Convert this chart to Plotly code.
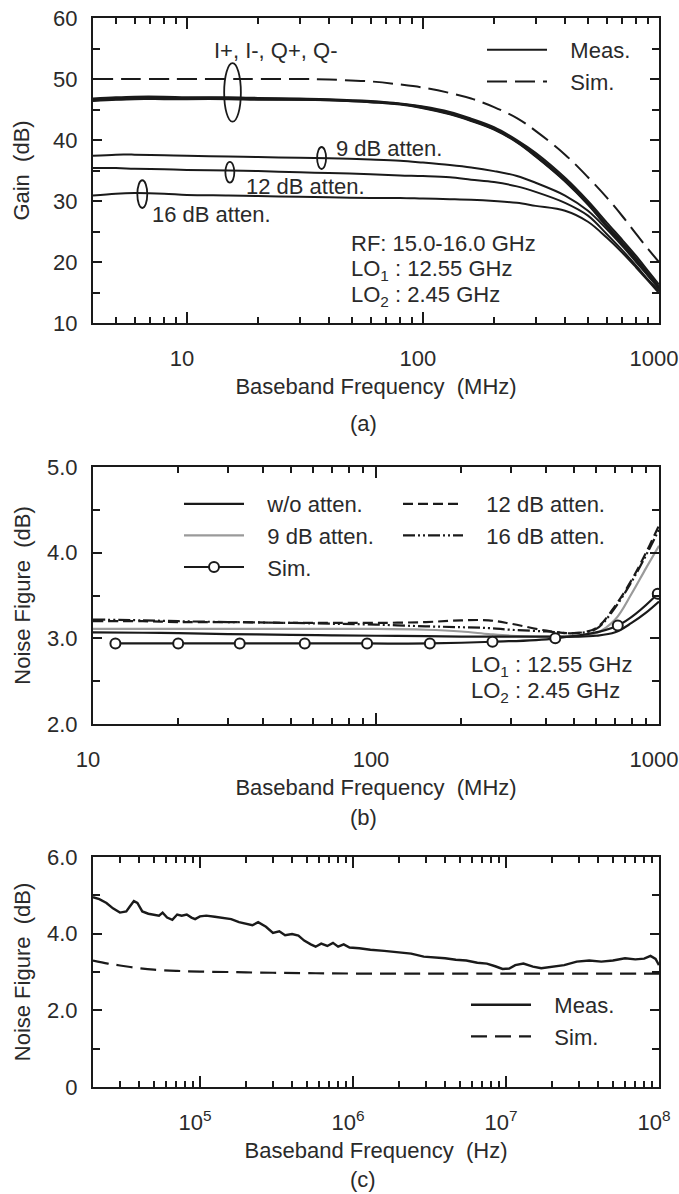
import numpy as np
import plotly.graph_objects as go

FONT = "Liberation Sans, Arial, Helvetica, sans-serif"
TXT = "#2a2a2a"
INK = "#1a1a1a"
GRAY = "#9a9a9a"
FS = 22

# ---------------- Panel (a): gain vs baseband frequency (MHz) ----------------
fa = [4, 5, 6, 8, 10, 15, 20, 30, 40, 60, 80, 100, 130, 160, 200, 250, 300, 400, 500, 600, 700, 800, 900, 1000]
gain_sim = [50.0, 50.0, 50.0, 50.0, 50.0, 50.0, 50.0, 50.0, 49.9, 49.6, 49.1, 48.6, 47.7, 46.8, 45.4, 43.6, 41.5, 37.6, 33.9, 30.6, 27.5, 24.6, 22.1, 20.0]
gain_ip = [46.6, 46.8, 46.9, 46.9, 46.9, 46.9, 46.8, 46.7, 46.6, 46.3, 45.9, 45.4, 44.4, 43.3, 41.9, 39.8, 37.6, 33.5, 29.7, 26.1, 23.2, 20.6, 18.1, 15.9]
gain_im = [46.8, 47.0, 47.1, 47.1, 47.0, 47.0, 46.9, 46.8, 46.7, 46.4, 46.0, 45.5, 44.6, 43.5, 42.1, 40.0, 37.9, 33.8, 30.0, 26.5, 23.6, 21.0, 18.5, 16.3]
gain_qp = [46.4, 46.6, 46.7, 46.7, 46.7, 46.7, 46.6, 46.6, 46.5, 46.2, 45.8, 45.2, 44.2, 43.1, 41.7, 39.6, 37.3, 33.2, 29.4, 25.8, 22.9, 20.3, 17.8, 15.6]
gain_qm = [46.5, 46.7, 46.8, 46.8, 46.8, 46.8, 46.7, 46.6, 46.5, 46.2, 45.9, 45.3, 44.3, 43.2, 41.8, 39.7, 37.4, 33.3, 29.5, 25.9, 23.0, 20.4, 18.0, 15.8]
gain_9db = [37.4, 37.6, 37.6, 37.5, 37.4, 37.3, 37.2, 37.1, 37.0, 36.8, 36.6, 36.3, 35.9, 35.5, 34.9, 34.1, 33.0, 30.9, 28.4, 25.4, 22.6, 20.0, 17.7, 15.8]
gain_12db = [35.4, 35.4, 35.3, 35.2, 35.1, 35.0, 34.9, 34.7, 34.6, 34.4, 34.2, 34.1, 33.9, 33.5, 33.1, 32.4, 31.5, 29.7, 27.6, 24.6, 21.9, 19.4, 17.1, 15.3]
gain_16db = [30.9, 31.2, 31.3, 31.2, 31.0, 30.9, 30.8, 30.7, 30.6, 30.5, 30.5, 30.4, 30.3, 30.2, 30.0, 29.7, 29.2, 28.4, 26.6, 24.0, 21.5, 19.1, 16.9, 14.9]

# ---------------- Panel (b): noise figure vs baseband frequency (MHz) ----------------
fb = [10, 15, 20, 30, 50, 70, 100, 150, 200, 250, 300, 400, 500, 600, 700, 800, 900, 1000]
nf_wo = [3.07, 3.065, 3.06, 3.05, 3.04, 3.035, 3.03, 3.025, 3.02, 3.02, 3.02, 3.02, 3.02, 3.03, 3.07, 3.18, 3.30, 3.43]
nf_9db = [3.11, 3.11, 3.11, 3.11, 3.11, 3.11, 3.11, 3.10, 3.08, 3.05, 3.03, 3.02, 3.02, 3.06, 3.22, 3.52, 3.82, 4.08]
nf_12db = [3.20, 3.20, 3.19, 3.19, 3.18, 3.18, 3.18, 3.19, 3.21, 3.21, 3.17, 3.09, 3.06, 3.12, 3.38, 3.68, 4.00, 4.32]
nf_16db = [3.22, 3.21, 3.20, 3.19, 3.18, 3.17, 3.16, 3.14, 3.13, 3.12, 3.10, 3.08, 3.06, 3.11, 3.36, 3.66, 3.97, 4.27]
fb_sim = [12, 20, 33, 56, 93, 155, 258, 430, 715, 990]
nf_sim_b = [2.94, 2.94, 2.94, 2.94, 2.94, 2.94, 2.96, 3.00, 3.15, 3.52]

# ---------------- Panel (c): noise figure vs baseband frequency (Hz) ----------------
fc_meas = [2.0e4, 2.2e4, 2.45e4, 2.7e4, 3.0e4, 3.3e4, 3.5e4, 3.7e4, 3.9e4, 4.2e4, 4.6e4, 5.0e4,
           5.4e4, 5.7e4, 6.1e4, 6.6e4, 7.1e4, 7.6e4, 8.2e4, 8.8e4, 9.3e4, 1.0e5, 1.1e5, 1.25e5,
           1.4e5, 1.6e5, 1.8e5, 2.0e5, 2.2e5, 2.4e5, 2.7e5, 3.0e5, 3.3e5, 3.6e5, 4.0e5, 4.4e5,
           4.8e5, 5.3e5, 5.7e5, 6.2e5, 6.8e5, 7.4e5, 8.0e5, 8.7e5, 9.5e5, 1.1e6, 1.3e6, 1.6e6,
           2.0e6, 2.4e6, 2.9e6, 3.4e6, 4.0e6, 4.7e6, 5.5e6, 6.5e6, 7.5e6, 8.5e6, 9.5e6, 1.05e7,
           1.15e7, 1.3e7, 1.5e7, 1.7e7, 2.0e7, 2.4e7, 2.9e7, 3.5e7, 4.2e7, 5.0e7, 6.0e7, 7.0e7,
           8.0e7, 8.8e7, 9.5e7, 1.0e8]
nf_meas_c = [4.95, 4.90, 4.80, 4.66, 4.55, 4.58, 4.72, 4.85, 4.80, 4.58, 4.52, 4.50,
             4.47, 4.55, 4.42, 4.36, 4.50, 4.47, 4.50, 4.42, 4.38, 4.45, 4.47, 4.44,
             4.42, 4.38, 4.30, 4.25, 4.22, 4.30, 4.18, 4.02, 4.06, 3.96, 3.99, 3.95,
             3.82, 3.72, 3.66, 3.74, 3.68, 3.76, 3.66, 3.72, 3.64, 3.62, 3.58, 3.55,
             3.52, 3.48, 3.40, 3.38, 3.36, 3.32, 3.30, 3.24, 3.22, 3.15, 3.08, 3.09,
             3.18, 3.22, 3.14, 3.10, 3.14, 3.18, 3.27, 3.30, 3.27, 3.30, 3.36, 3.33,
             3.35, 3.42, 3.34, 3.18]
fc_sim = [2e4, 2.5e4, 3e4, 4e4, 5e4, 7e4, 1e5, 1.5e5, 2e5, 3e5, 5e5, 1e6, 1e7, 1e8]
nf_sim_c = [3.30, 3.22, 3.17, 3.10, 3.06, 3.03, 3.01, 3.00, 2.99, 2.98, 2.97, 2.96, 2.96, 2.96]

# tick labels
xa_major = [10, 100, 1000]
xa_text = ["10", "100", "1000"]
xa_minor = [5, 6, 7, 8, 9, 20, 30, 40, 50, 60, 70, 80, 90, 200, 300, 400, 500, 600, 700, 800, 900]
xc_major = [1e5, 1e6, 1e7, 1e8]
xc_text = ["10<sup>5</sup>", "10<sup>6</sup>", "10<sup>7</sup>", "10<sup>8</sup>"]
xc_minor = [3e4, 4e4, 5e4, 6e4, 7e4, 8e4, 9e4, 2e5, 3e5, 4e5, 5e5, 6e5, 7e5, 8e5, 9e5,
            2e6, 3e6, 4e6, 5e6, 6e6, 7e6, 8e6, 9e6, 2e7, 3e7, 4e7, 5e7, 6e7, 7e7, 8e7, 9e7]
yc_major = [0, 2, 4, 6]
yc_text = ["0", "2.0", "4.0", "6.0"]

fig = go.Figure()

# ---- panel (a) traces
for i, (nm, ys) in enumerate([("I+", gain_ip), ("I-", gain_im), ("Q+", gain_qp), ("Q-", gain_qm)]):
    fig.add_trace(go.Scatter(x=fa, y=ys, mode="lines", line=dict(color=INK, width=2.0, shape="spline"),
                             name="\u00a0\u00a0\u00a0Meas.", legendgroup="ma", showlegend=(i == 0),
                             legend="legend", xaxis="x", yaxis="y"))
for ys in [gain_9db, gain_12db, gain_16db]:
    fig.add_trace(go.Scatter(x=fa, y=ys, mode="lines", line=dict(color=INK, width=2.0, shape="spline"),
                             showlegend=False, xaxis="x", yaxis="y"))
fig.add_trace(go.Scatter(x=fa, y=gain_sim, mode="lines", line=dict(color=INK, width=2.0, dash="20px,8px", shape="spline"),
                         name="\u00a0\u00a0\u00a0Sim.", legendgroup="sa", legend="legend", xaxis="x", yaxis="y"))

# ---- panel (b) traces
fig.add_trace(go.Scatter(x=fb, y=nf_9db, mode="lines", line=dict(color=GRAY, width=2.2, shape="spline"),
                         name="\u00a0\u00a0\u00a09 dB atten.", legendgroup="b2", legendrank=2, legend="legend2", xaxis="x2", yaxis="y2"))
fig.add_trace(go.Scatter(x=fb, y=nf_12db, mode="lines", line=dict(color=INK, width=2.2, dash="10px,5px", shape="spline"),
                         name="\u00a0\u00a0\u00a012 dB atten.", legendgroup="b4", legendrank=1, legend="legend3", xaxis="x2", yaxis="y2"))
fig.add_trace(go.Scatter(x=fb, y=nf_16db, mode="lines", line=dict(color=INK, width=2.2, dash="12px,3px,2px,3px,2px,3px", shape="spline"),
                         name="\u00a0\u00a0\u00a016 dB atten.", legendgroup="b5", legendrank=2, legend="legend3", xaxis="x2", yaxis="y2"))
fig.add_trace(go.Scatter(x=fb, y=nf_wo, mode="lines", line=dict(color=INK, width=2.2, shape="spline"),
                         name="\u00a0\u00a0\u00a0w/o atten.", legendgroup="b1", legendrank=1, legend="legend2", xaxis="x2", yaxis="y2"))
fig.add_trace(go.Scatter(x=fb_sim, y=nf_sim_b, mode="lines+markers", line=dict(color=INK, width=2.2, shape="spline"),
                         marker=dict(symbol="circle", size=10, color="white", line=dict(color=INK, width=2)),
                         name="\u00a0\u00a0\u00a0Sim.", legendgroup="b3", legendrank=3, legend="legend2", xaxis="x2", yaxis="y2"))

# ---- panel (c) traces
fig.add_trace(go.Scatter(x=fc_meas, y=nf_meas_c, mode="lines", line=dict(color=INK, width=2.4),
                         name="\u00a0\u00a0\u00a0Meas.", legendgroup="c1", legend="legend4", xaxis="x3", yaxis="y3"))
fig.add_trace(go.Scatter(x=fc_sim, y=nf_sim_c, mode="lines", line=dict(color=INK, width=2.2, dash="16px,8px", shape="spline"),
                         name="\u00a0\u00a0\u00a0Sim.", legendgroup="c2", legend="legend4", xaxis="x3", yaxis="y3"))

W, H = 679, 1194
ML, MR, MT, MB = 93, 20, 18, 107
PW, PH = W - ML - MR, H - MT - MB


def py(pix):
    return (H - MB - pix) / PH


def px(pix):
    return (pix - ML) / PW


tickfont = dict(family=FONT, size=FS, color=TXT)
titlefont = dict(family=FONT, size=FS, color=TXT)


def xax(anchor, **kw):
    d = dict(showline=True, linecolor=INK, linewidth=2, mirror="ticks", ticks="inside", ticklen=11,
             tickwidth=1.5, tickcolor=INK, showgrid=False, zeroline=False, tickfont=tickfont,
             ticklabelstandoff=15, ticklabelshift=-5, ticklabeloverflow="allow", automargin=False,
             domain=[0, 1], anchor=anchor)
    d.update(kw)
    return d


def yax(dom, **kw):
    d = dict(showline=True, linecolor=INK, linewidth=2, mirror="ticks", ticks="inside", ticklen=9,
             tickwidth=1.5, tickcolor=INK, showgrid=False, zeroline=False, tickfont=tickfont,
             ticklabelstandoff=9, ticklabeloverflow="allow", automargin=False, domain=dom)
    d.update(kw)
    return d


def minor_x(vals):
    return dict(tickmode="array", tickvals=vals, ticks="inside", ticklen=6, tickwidth=1.5, tickcolor=INK, showgrid=False)


def minor_y(step):
    return dict(dtick=step, ticks="inside", ticklen=7, tickwidth=1.5, tickcolor=INK, showgrid=False)


fig.update_layout(
    width=W, height=H, margin=dict(l=ML, r=MR, t=MT, b=MB),
    paper_bgcolor="white", plot_bgcolor="white",
    font=dict(family=FONT, size=FS, color=TXT),
    xaxis=xax("y", type="log", range=[np.log10(4), 3], tickmode="array", tickvals=xa_major,
              ticktext=xa_text, minor=minor_x(xa_minor),
              title=dict(text="Baseband Frequency\u00a0\u00a0(MHz)", font=titlefont, standoff=8)),
    yaxis=yax([py(323), 1.0], anchor="x", range=[10, 60], tickmode="array", tickvals=[10, 20, 30, 40, 50, 60],
              minor=minor_y(5),
              title=dict(text="Gain\u00a0\u00a0(dB)", font=titlefont, standoff=17)),
    xaxis2=xax("y2", type="log", range=[1, 3], tickmode="array", tickvals=xa_major,
               ticktext=xa_text, minor=minor_x(xa_minor),
               title=dict(text="Baseband Frequency\u00a0\u00a0(MHz)", font=titlefont, standoff=8)),
    yaxis2=yax([py(724), py(467)], anchor="x2", range=[2, 5], tickmode="array", tickvals=[2, 3, 4, 5],
               tickformat=".1f", minor=minor_y(0.5),
               title=dict(text="Noise Figure\u00a0\u00a0(dB)", font=titlefont, standoff=10)),
    xaxis3=xax("y3", type="log", range=[np.log10(2e4), 8], tickmode="array", tickvals=xc_major,
               ticktext=xc_text, minor=minor_x(xc_minor),
               title=dict(text="Baseband Frequency\u00a0\u00a0(Hz)", font=titlefont, standoff=8)),
    yaxis3=yax([0, py(857)], anchor="x3", range=[0, 6], tickmode="array", tickvals=yc_major, ticktext=yc_text,
               minor=minor_y(1),
               title=dict(text="Noise Figure\u00a0\u00a0(dB)", font=titlefont, standoff=10)),
)

leg_common = dict(bgcolor="rgba(0,0,0,0)", borderwidth=0, itemwidth=60, font=dict(family=FONT, size=FS, color=TXT),
                  tracegroupgap=4, orientation="v", xanchor="left", yanchor="top", traceorder="normal")
fig.update_layout(
    legend=dict(leg_common, x=px(482), y=py(29)),
    legend2=dict(leg_common, x=px(179), y=py(483)),
    legend3=dict(leg_common, x=px(398), y=py(483)),
    legend4=dict(leg_common, x=px(466), y=py(984)),
)

L = np.log10
ann = []


def t(x, y, text, xr, yr, xanchor="left"):
    ann.append(dict(x=x, y=y, xref=xr, yref=yr, text=text, showarrow=False, xanchor=xanchor, yanchor="middle",
                    font=dict(family=FONT, size=FS, color=TXT)))


# panel (a) labels
t(L(23.8), 54.6, "I+, I-, Q+, Q-", "x", "y", "center")
t(L(42), 38.6, "9 dB atten.", "x", "y")
t(L(17.4), 32.4, "12 dB atten.", "x", "y")
t(L(7.0), 27.8, "16 dB atten.", "x", "y")
t(L(48.7), 23.0, "RF: 15.0-16.0 GHz", "x", "y")
t(L(48.7), 18.7, "LO<sub>1</sub> : 12.55 GHz", "x", "y")
t(L(48.7), 14.4, "LO<sub>2</sub> : 2.45 GHz", "x", "y")
# panel (b)
t(L(213), 2.68, "LO<sub>1</sub> : 12.55 GHz", "x2", "y2")
t(L(213), 2.37, "LO<sub>2</sub> : 2.45 GHz", "x2", "y2")
# captions
cx = px(363)
t(cx, py(423), "(a)", "paper", "paper", "center")
t(cx, py(817), "(b)", "paper", "paper", "center")
t(cx, py(1179), "(c)", "paper", "paper", "center")
fig.update_layout(annotations=ann)

# ellipses grouping curves (panel a)
ell = [(15.6, 0.0354, 43.0, 52.6), (37.2, 0.019, 35.25, 38.85), (15.2, 0.019, 33.0, 36.4), (6.47, 0.021, 28.85, 33.4)]
shapes = []
for fc, hw, y0, y1 in ell:
    shapes.append(dict(type="circle", xref="x", yref="y", x0=fc / 10 ** hw, x1=fc * 10 ** hw, y0=y0, y1=y1,
                       line=dict(color=INK, width=1.8), fillcolor="rgba(0,0,0,0)"))
fig.update_layout(shapes=shapes)

fig.write_html("out.html", config={"displayModeBar": False},
               post_script="document.body.style.margin='0';document.body.style.overflow='hidden';")
